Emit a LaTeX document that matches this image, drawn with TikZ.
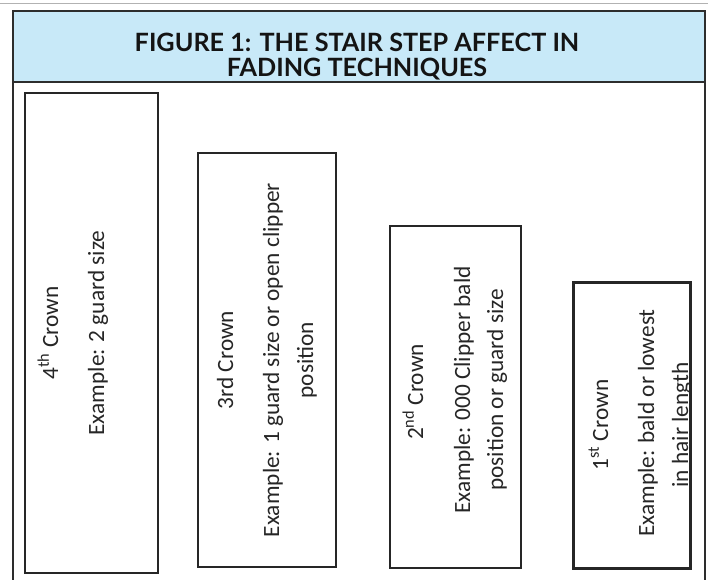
\documentclass[tikz,border=0pt]{standalone}
\usepackage{fontspec}
\setmainfont{Carlito}
\newfontfamily\headfont{Lato}
\begin{document}
\begin{tikzpicture}[x=1pt,y=-1pt,
  stepbox/.style={draw=black!85, line width=1.2pt, inner sep=0pt},
  lbl/.style={rotate=90, anchor=base, inner sep=0pt, font=\fontsize{23.3}{28}\selectfont, text=black!85},
  hdr/.style={anchor=base, inner sep=0pt, font=\headfont\bfseries\fontsize{25.2}{30}\selectfont, text=black!92}]
\definecolor{hdrblue}{RGB}{200,233,248}
\definecolor{framec}{RGB}{45,45,45}
\useasboundingbox (0,0) rectangle (709,580);
\draw[gray!60, line width=1.5pt] (0,3.5) -- (708,3.5);
\fill[hdrblue] (13,11) rectangle (705,82);
\draw[framec, line width=2.5pt] (13,590) -- (13,11) -- (705,11) -- (705,590);
\draw[framec, line width=2.5pt] (13,82) -- (705,82);
\node[hdr] (t1) at (357,52) {FIGURE 1: THE STAIR STEP AFFECT IN};
\node[hdr] (t2) at (357,77) {FADING TECHNIQUES};
% boxes
\node[stepbox, minimum width=133pt, minimum height=480pt] (b4) at (91.5,333) {};
\node[stepbox, minimum width=138pt, minimum height=414pt] (b3) at (267,360) {};
\node[stepbox, minimum width=131pt, minimum height=342pt] (b2) at (455.5,397) {};
\node[stepbox, line width=3pt, minimum width=117pt, minimum height=286pt] (b1) at (632,425.5) {};
% texts
\node[lbl] (l4a) at (58,333) {4\textsuperscript{th} Crown};
\node[lbl] (l4b) at (104,333) {Example: 2 guard size};
\node[lbl] (l3a) at (233,360) {3rd Crown};
\node[lbl] (l3b) at (279,360) {Example: 1 guard size or open clipper};
\node[lbl] (l3c) at (313,360) {position};
\node[lbl] (l2a) at (423,392) {2\textsuperscript{nd} Crown};
\node[lbl] (l2b) at (470,390) {Example: 000 Clipper bald};
\node[lbl] (l2c) at (503,390) {position or guard size};
\begin{scope}
\clip (573.5,282.5) rectangle (690.5,568.5);
\node[lbl] (l1a) at (608,425) {1\textsuperscript{st} Crown};
\node[lbl] (l1b) at (654,423) {Example: bald or lowest};
\node[lbl] (l1c) at (688,425) {in hair length};
\end{scope}
\end{tikzpicture}
\end{document}
